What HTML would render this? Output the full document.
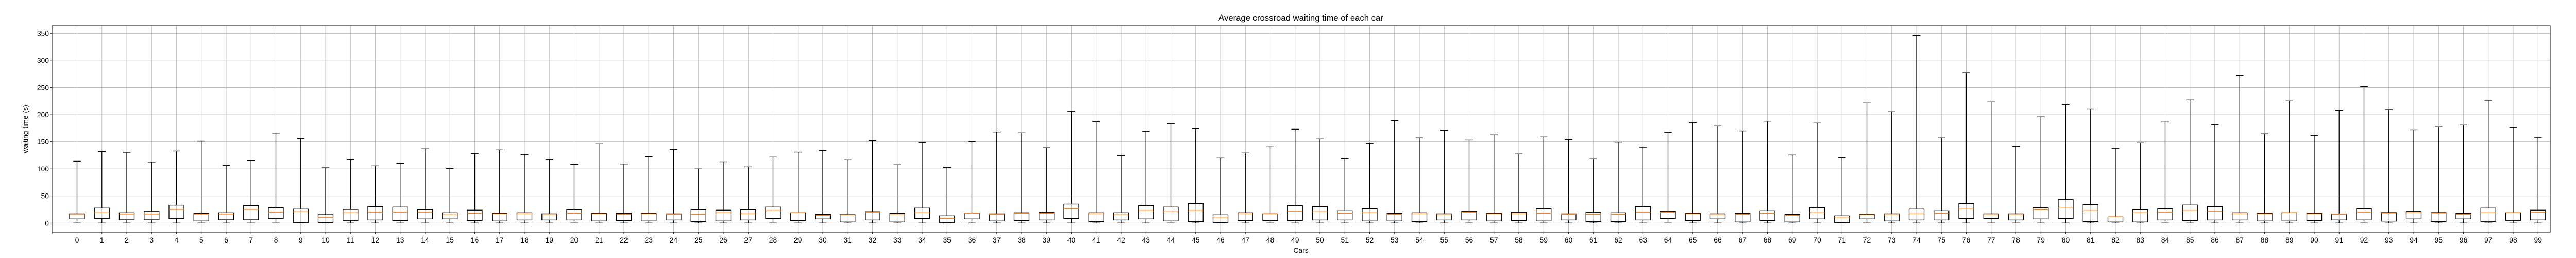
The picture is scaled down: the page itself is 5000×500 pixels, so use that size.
<!DOCTYPE html>
<html><head><meta charset="utf-8"><style>
html,body{margin:0;padding:0;background:#fff;}
svg{display:block;font-family:"Liberation Sans","DejaVu Sans",sans-serif;}
</style></head><body>
<svg id="chart" width="5000" height="500" viewBox="0 0 5000 500" xmlns="http://www.w3.org/2000/svg">
<text x="2525" y="40" font-size="16.7" text-anchor="middle" fill="#000">Average crossroad waiting time of each car</text>
<text x="2525" y="490" font-size="13.9" text-anchor="middle" fill="#000">Cars</text>
<text x="54" y="250" font-size="13.9" text-anchor="middle" fill="#000" transform="rotate(-90 54 250)">waiting time (s)</text>
<g id="grid"></g>
<g id="boxes"></g>
<g id="axes"></g>
</svg>
<script>
const whiskerHigh=[114,132,130.6,112.6,133,151,106.5,115,166,156,102,117,
105.5,110,137,100.8,128,135,126.5,117,108.4,
145.5,109,122.6,136,99.9,113,103.6,121.7,131,134,116,
152,107.5,148,102.7,150,168,166.4,139,205.5,187,
124.6,169.3,183.6,174,119.8,129.3,140.7,173,155,118.8,
146.5,189,157,171,153,162.6,127.5,158.8,154,118,
149,140,167.4,185.5,178.8,170,188,125.5,184.5,120.8,
221.6,204.5,346,157,277,223.5,141.7,196,218.8,210,
138,147.4,186.4,227.3,181.7,272,164.6,225.4,161.7,
207,252,208.6,172,177,180.7,226.7,176,158];
const q3=[17,27.6,19,22,33,18,19,32,28.5,25.7,15.5,25,
30.4,29.5,24.7,19,23.8,18,19,17,24.7,
18,18,18,17,24.7,23.8,24.7,29.5,19,16,15.5,
21,18,27.6,13.3,18,17,19,20,35,19,
19,32.3,29.5,36,15.2,19,17,32.3,30.4,22.8,
26.6,18,19,17,21.9,18,20,26.6,17,20,
19,30.4,21.9,18,17,18,22.8,16,28.5,13.3,
16,17,25.7,22.8,36,17,17,28.5,43.8,34,
11.4,24.7,26.6,33.3,30.4,19,18,19,18,
16.8,26.6,19.3,21.9,19.3,18,27.6,19,23.8];
const median=[15.5,19,16.5,16.5,25,16.5,16.5,25,20,21,10.5,19,
20,20,20,15.2,18,17,17,15.2,18,
17,16,17,16,16,19,17,22.8,19,14.2,15,
20,15.2,19,8.5,18,16,18,18,26.6,17,
15.2,22.8,21,22.8,9.5,17,17,21.9,21,18,
19,16,17,15.2,20,17,17,18,16,16,
16,20,20,17,15.2,16,18,14.2,19,9.5,
15.2,15.2,17,18,25.7,15.2,15.2,24.7,27.6,22.8,
11.4,19,20,22.8,21.9,17,17,19,17,
16,20,18.4,19,18.4,16,19,19,20];
const q1=[7.6,8.6,6,6,8.6,3.8,6,6,8.6,1,1,4.8,
5.6,4.7,7.6,7.6,4.7,3.8,5.6,5.6,5.6,
3.8,4.7,3.8,5.6,2.8,3.8,5.6,8.5,4.7,7.6,1.9,
5.6,1.9,8.5,1,7.6,3.8,4.7,5.6,8.5,2.8,
5.6,7.6,3.8,2.8,1,4.7,4.7,4.7,5.6,5.6,
3.8,3.8,2.8,5.6,5.6,3.8,4.7,3.8,5.6,2.8,
2.8,5.6,8.5,4.7,7.6,1.9,4.7,1.9,7.6,1,
7.6,3.8,5.6,5.6,8.5,8.5,5.6,7.6,8.5,2.8,
1.9,1.9,5.6,4.7,5.6,5.6,3.8,3.8,4.7,
5.7,5.7,3.5,7.6,2.5,7.6,2.9,4.8,5.7];
const whiskerLow=new Array(100).fill(0);
const categories=[...Array(100).keys()].map(String);
const yTicks=[0,50,100,150,200,250,300,350];

const L=101,R=4950,T=50,B=450;
const X0=149.5,DX=48.25;
const Y0=432.3,KY=1.0514;
function xs(i){return X0+i*DX;}
function ys(v){return Y0-v*KY;}
const NS="http://www.w3.org/2000/svg";
function mk(tag,attrs,parent){const e=document.createElementNS(NS,tag);for(const k in attrs)e.setAttribute(k,attrs[k]);parent.appendChild(e);return e;}
const grid=document.getElementById('grid'),boxes=document.getElementById('boxes'),axes=document.getElementById('axes');

yTicks.forEach(t=>{
  const y=ys(t);
  const gl=mk('line',{x1:L,x2:R,y1:y,y2:y,stroke:'#b0b0b0','stroke-width':0.8},grid);
  
  
  const tk=mk('line',{x1:L-3.5,x2:L,y1:y,y2:y,stroke:'#000','stroke-width':0.8},axes);
  
  
  const tx=mk('text',{x:L-6,y:y+5,'font-size':13.9,'text-anchor':'end',fill:'#000'},axes);
  tx.textContent=t;
  
  
});
const lt=mk('line',{x1:L,x2:L,y1:B,y2:B+3.5,stroke:'#000','stroke-width':0.8},axes);



categories.forEach((c,i)=>{
  const x=xs(i);
  const gl=mk('line',{x1:x,x2:x,y1:T,y2:B,stroke:'#b0b0b0','stroke-width':0.8},grid);
  
  
  const tk=mk('line',{x1:x,x2:x,y1:B,y2:B+3.5,stroke:'#000','stroke-width':0.8},axes);
  
  
  const tx=mk('text',{x:x,y:B+20,'font-size':13.9,'text-anchor':'middle',fill:'#000'},axes);
  tx.textContent=c;
  
  

  const g=mk('g',{},boxes);
  
  
  const hw=14.5,cw=7.3,sw=1.3;
  mk('line',{x1:x,x2:x,y1:ys(q3[i]),y2:ys(whiskerHigh[i]),stroke:'#000','stroke-width':sw},g);
  mk('line',{x1:x,x2:x,y1:ys(q1[i]),y2:ys(whiskerLow[i]),stroke:'#000','stroke-width':sw},g);
  mk('line',{x1:x-cw,x2:x+cw,y1:ys(whiskerHigh[i]),y2:ys(whiskerHigh[i]),stroke:'#000','stroke-width':sw},g);
  mk('line',{x1:x-cw,x2:x+cw,y1:ys(whiskerLow[i]),y2:ys(whiskerLow[i]),stroke:'#000','stroke-width':sw},g);
  mk('rect',{x:x-hw,y:ys(q3[i]),width:2*hw,height:Math.max(ys(q1[i])-ys(q3[i]),0.5),fill:'none',stroke:'#000','stroke-width':sw},g);
  mk('line',{x1:x-hw,x2:x+hw,y1:ys(median[i]),y2:ys(median[i]),stroke:'#ff7f0e','stroke-width':sw},g);
});
const frame=mk('rect',{x:L,y:T,width:R-L,height:B-T,fill:'none',stroke:'#000','stroke-width':1},axes);


</script>
</body></html>
